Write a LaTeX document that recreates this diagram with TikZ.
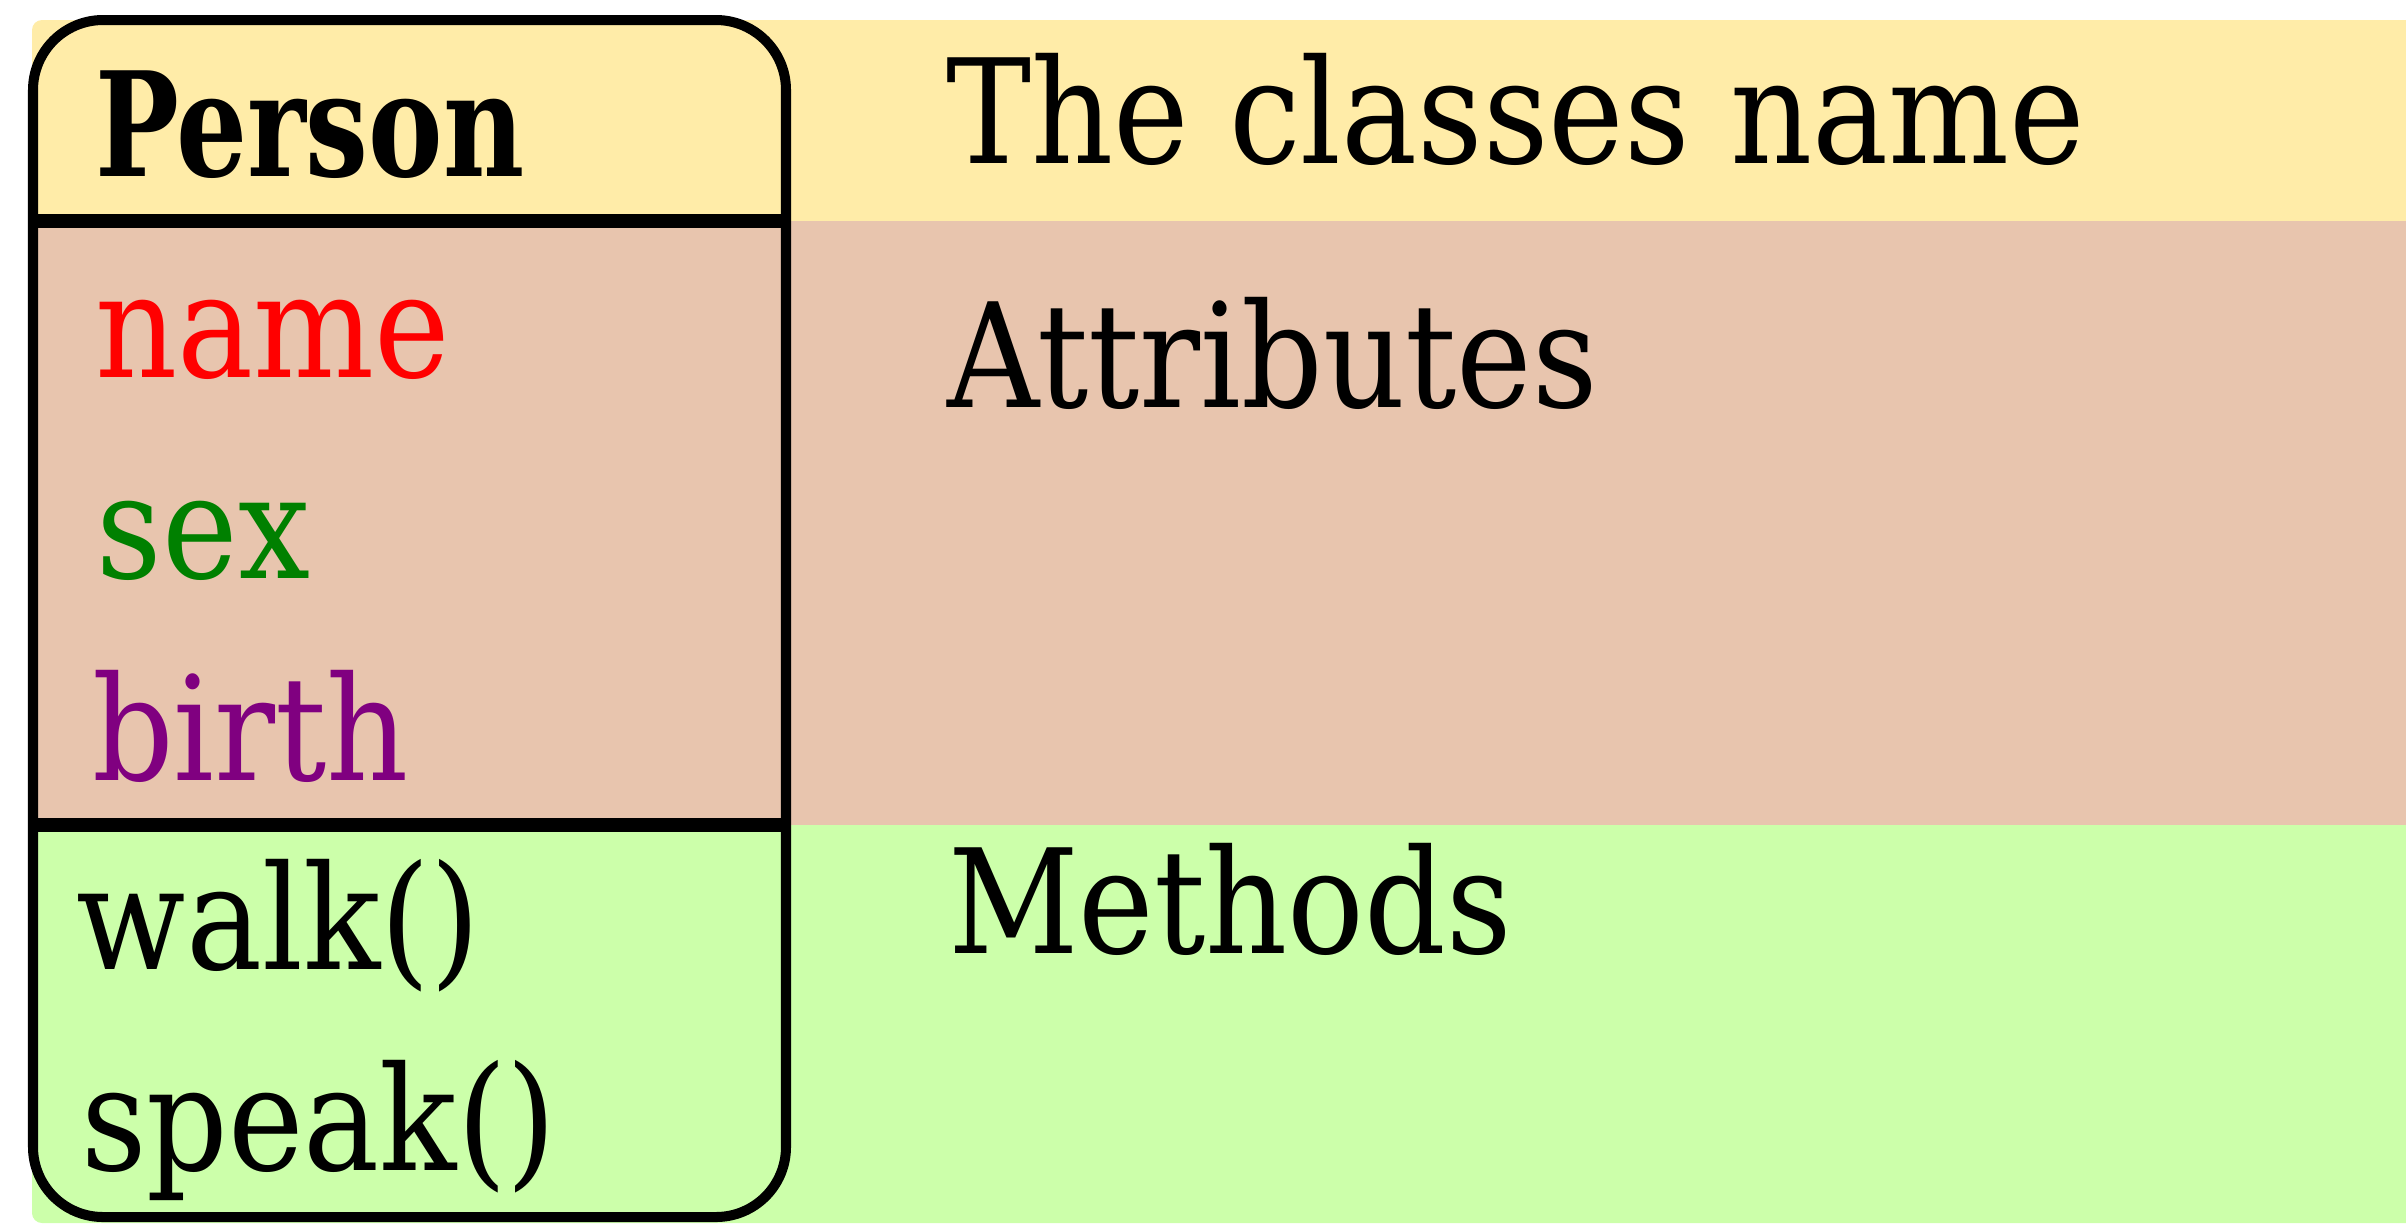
\documentclass[tikz,border=0pt]{standalone}
\usepackage{graphicx}
\usepackage{fontspec}
\setmainfont{DejaVu Serif}[FakeStretch=0.88]
\definecolor{bandyellow}{HTML}{FFECA8}
\definecolor{bandtan}{HTML}{E8C5AE}
\definecolor{bandgreen}{HTML}{CCFFAA}
\definecolor{attrgreen}{HTML}{008000}
\definecolor{attrpurple}{HTML}{800080}
\tikzset{
  lbl/.style={anchor=base west, inner sep=0pt, outer sep=0pt, font=\fontsize{41.25}{49}\selectfont},
  boxline/.style={line width=2.85pt, draw=black},
  divider/.style={line width=3.9pt, draw=black},
}
\begin{document}
\begin{tikzpicture}[x=0.01cm, y=-0.01cm]
\useasboundingbox (0,0) rectangle (2406,1223);
% background bands
\begin{scope}
  \clip[rounded corners=0.1cm] (32,20) rectangle (2500,1223);
  \fill[bandyellow] (0,0) rectangle (2500,221);
  \fill[bandtan] (0,221) rectangle (2500,825);
  \fill[bandgreen] (0,825) rectangle (2500,1300);
\end{scope}
% class box
\draw[boxline, rounded corners=0.7cm] (33,20) rectangle (786,1217);
\coordinate (d1l) at (33,221);
\coordinate (d1r) at (786,221);
\coordinate (d2l) at (33,825);
\coordinate (d2r) at (786,825);
\draw[divider] (d1l) -- (d1r);
\draw[divider] (d2l) -- (d2r);
% texts
\node[lbl] (person) at (95,176) {\scalebox{0.875}[1]{\bfseries Person}};
\node[lbl] (classname) at (946,163) {The classes name};
\node[lbl, text=red] (name) at (95,377) {name};
\node[lbl] (attributes) at (947,407) {Attributes};
\node[lbl, text=attrgreen] (sex) at (97,578) {sex};
\node[lbl, text=attrpurple] (birth) at (92,780) {birth};
\node[lbl] (walk) at (77,969) {walk()};
\node[lbl] (methods) at (948,953) {Methods};
\node[lbl] (speak) at (81,1170) {speak()};
\end{tikzpicture}
\end{document}
